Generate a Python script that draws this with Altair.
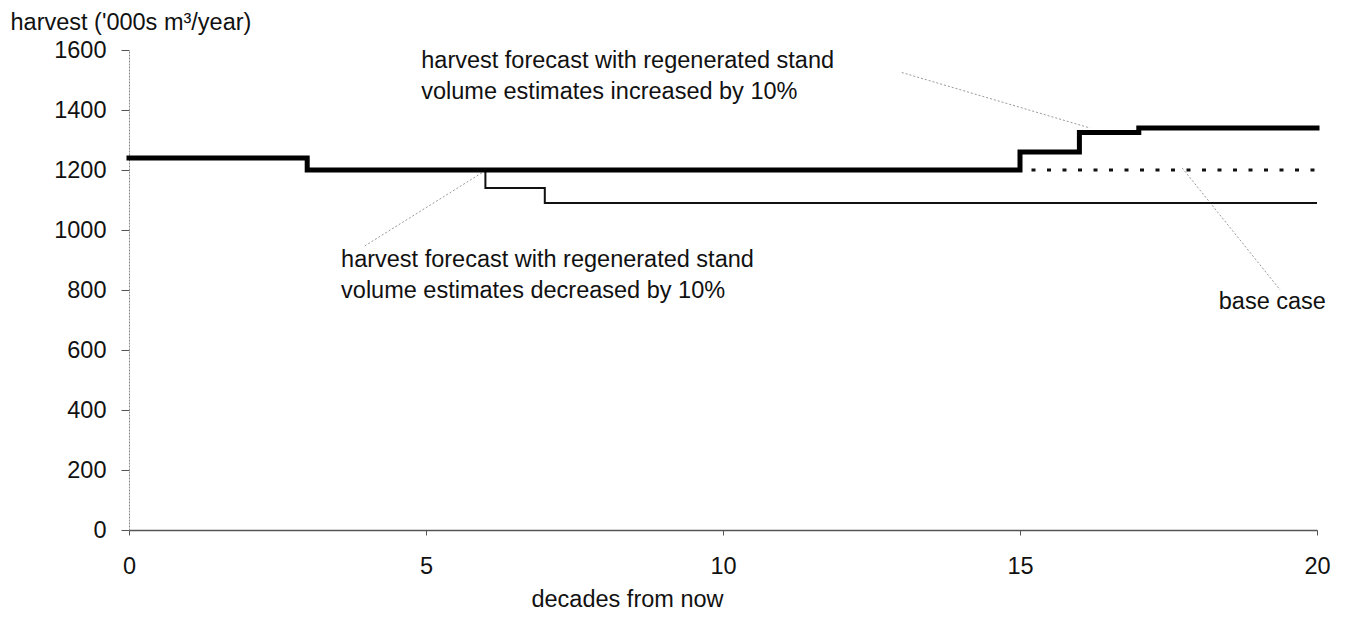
import altair as alt
import pandas as pd

# ---- data ----
decades = list(range(21))
base_case = [1240, 1240, 1240] + [1200] * 18
increased = [1240, 1240, 1240] + [1200] * 12 + [1260, 1325] + [1340] * 4
decreased = [1240, 1240, 1240] + [1200] * 3 + [1140] + [1090] * 14

x_ticks = [0, 5, 10, 15, 20]
y_ticks = [0, 200, 400, 600, 800, 1000, 1200, 1400, 1600]

# annotation anchors (data units)
upper_text = ["harvest forecast with regenerated stand", "volume estimates increased by 10%"]
upper_x = [4.92, 4.92]
upper_y = [1540, 1437]
lower_text = ["harvest forecast with regenerated stand", "volume estimates decreased by 10%"]
lower_x = [3.57, 3.57]
lower_y = [877, 773]
base_text = ["base case"]
base_x = [20.15]
base_y = [737]

conn_x = [13.01, 3.97, 17.73]
conn_y = [1525, 947, 1207]
conn_x2 = [16.18, 5.96, 19.38]
conn_y2 = [1340, 1193, 800]

FONT = "Liberation Sans"
FS = 23.5

rows = []
for d, b, i, r in zip(decades, base_case, increased, decreased):
    rows.append({"decade": d, "harvest": b, "series": "base"})
    rows.append({"decade": d, "harvest": i, "series": "inc"})
    rows.append({"decade": d, "harvest": r, "series": "dec"})
df = pd.DataFrame(rows)

ann_left = pd.DataFrame({"decade": upper_x + lower_x, "harvest": upper_y + lower_y,
                         "label": upper_text + lower_text})
ann_right = pd.DataFrame({"decade": base_x, "harvest": base_y, "label": base_text})
conn = pd.DataFrame({"decade": conn_x, "harvest": conn_y, "decade2": conn_x2, "harvest2": conn_y2})

xs = alt.Scale(domain=[0, 20], nice=False, zero=False)
ys = alt.Scale(domain=[0, 1600], nice=False)

x_axis = alt.Axis(values=x_ticks, format="d", title="decades from now",
                  titleX=498, titleY=76, titleAlign="center", titleBaseline="alphabetic",
                  titleFont=FONT, titleFontSize=FS, titleFontWeight="normal", titleColor="#111",
                  labelFont=FONT, labelFontSize=FS, labelColor="#111", labelBaseline="middle",
                  labelPadding=31, labelFlush=False, labelOverlap=False,
                  tickSize=5, tickColor="#555", domainColor="#555", domainWidth=1.5, grid=False)
y_axis = alt.Axis(values=y_ticks, format="d", title="harvest ('000s m³/year)",
                  titleAngle=0, titleAlign="left", titleBaseline="alphabetic",
                  titleX=-119, titleY=-21,
                  titleFont=FONT, titleFontSize=FS, titleFontWeight="normal", titleColor="#111",
                  labelFont=FONT, labelFontSize=FS, labelColor="#111",
                  labelPadding=15, labelFlush=False, labelOverlap=False,
                  tickSize=8, tickColor="#555", domainColor="#888", domainDash=[2, 1], grid=False)

X = alt.X("decade:Q", scale=xs, axis=x_axis)
Y = alt.Y("harvest:Q", scale=ys, axis=y_axis)

base_line = alt.Chart(df).transform_filter(alt.datum.series == "base").mark_line(
    interpolate="step-after", color="#111", strokeWidth=3, strokeDash=[4, 11.5]).encode(x=X, y=Y)
dec_line = alt.Chart(df).transform_filter(alt.datum.series == "dec").mark_line(
    interpolate="step-after", color="#111", strokeWidth=2).encode(x=X, y=Y)
inc_line = alt.Chart(df).transform_filter(alt.datum.series == "inc").mark_line(
    interpolate="step-after", color="#000", strokeWidth=5, strokeCap="square").encode(x=X, y=Y)

connectors = alt.Chart(conn).mark_rule(color="#999", strokeWidth=1, strokeDash=[2, 2]).encode(
    x=X, y=Y, x2="decade2:Q", y2="harvest2:Q")

txt_left = alt.Chart(ann_left).mark_text(align="left", baseline="alphabetic", font=FONT,
                                          fontSize=FS, color="#111").encode(x=X, y=Y, text="label:N")
txt_right = alt.Chart(ann_right).mark_text(align="right", baseline="alphabetic", font=FONT,
                                            fontSize=FS, color="#111").encode(x=X, y=Y, text="label:N")

chart = alt.layer(connectors, dec_line, base_line, inc_line, txt_left, txt_right).properties(
    width=1188, height=480,
    padding={"left": 121, "top": 42, "right": 20, "bottom": 86},
    autosize=alt.AutoSizeParams(type="none"),
    background="white",
).configure_view(stroke=None)

chart.save("out.html", embed_options={"renderer": "svg", "actions": False})
